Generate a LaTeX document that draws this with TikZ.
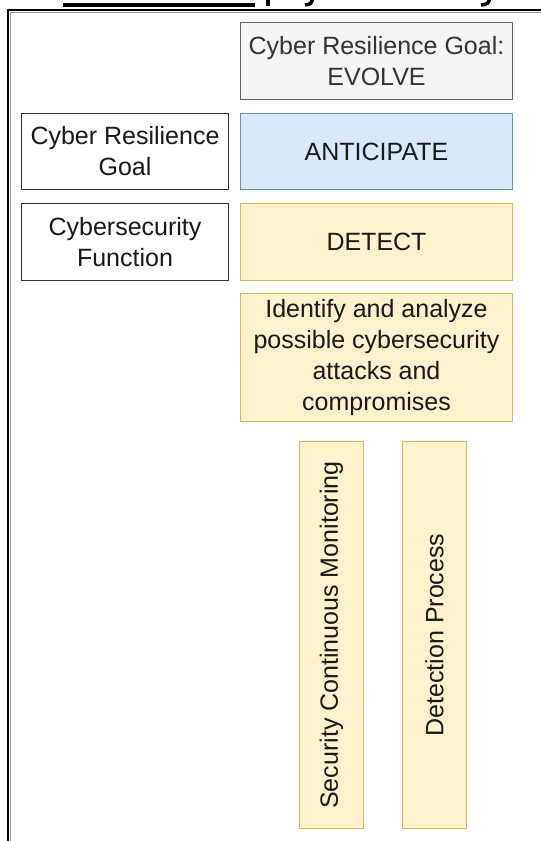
\documentclass[tikz,border=0pt]{standalone}
\usepackage{fontspec}
\setmainfont{Liberation Sans}
\definecolor{evfill}{HTML}{F5F5F5}
\definecolor{evdraw}{HTML}{666666}
\definecolor{evtext}{HTML}{333333}
\definecolor{blfill}{HTML}{DAE8FC}
\definecolor{bldraw}{HTML}{6C8EBF}
\definecolor{yefill}{HTML}{FFF2CC}
\definecolor{yedraw}{HTML}{D6B656}
\tikzset{
  base/.style={draw, line width=1pt, align=center, inner sep=0pt, anchor=north west,
    font=\fontsize{25}{31}\selectfont, text=black!90},
  evbox/.style={base, fill=evfill, draw=evdraw, text=evtext},
  lbox/.style={base, fill=white, draw=black!80},
  blbox/.style={base, fill=blfill, draw=bldraw},
  yebox/.style={base, fill=yefill, draw=yedraw},
}
\begin{document}
\begin{tikzpicture}[x=1pt,y=-1pt]
\useasboundingbox (0,0) rectangle (541,841);
\clip (0,0) rectangle (541,841);
% frame
\draw[line width=2pt, black] (8,845) -- (8,10) -- (545,10);
\draw[line width=1pt, black!40] (10,845) -- (10,12) -- (545,12);
% cut-off title fragments
\fill[black] (63,2.5) rectangle (255,7);
\fill[black] (266,0) rectangle (270,5.5);
\draw[line width=3.5pt, black] (313,-2) .. controls (311,4) .. (305,5);
\draw[line width=3.5pt, black] (490,-2) .. controls (488,4) .. (481,5);
% boxes
\node[evbox, minimum width=272pt, minimum height=77pt] (evolve) at (240,22) {Cyber Resilience Goal:\\EVOLVE};
\node[lbox, minimum width=207pt, minimum height=76pt] (goal) at (21,113) {Cyber Resilience\\Goal};
\node[blbox, minimum width=272pt, minimum height=76pt] (anticipate) at (240,113) {ANTICIPATE};
\node[lbox, minimum width=207pt, minimum height=77pt] (func) at (21,203) {Cybersecurity\\Function};
\node[yebox, minimum width=272pt, minimum height=77pt] (detect) at (240,203) {DETECT};
\node[yebox, minimum width=272pt, minimum height=128pt] (identify) at (240,293) {Identify and analyze\\possible cybersecurity\\attacks and\\compromises};
\node[yebox, minimum width=64pt, minimum height=387pt] (scm) at (299,441) {};
\node[rotate=90, font=\fontsize{25}{31}\selectfont, text=black!90] (scmtext) at (scm.center) {Security Continuous Monitoring};
\node[yebox, minimum width=64pt, minimum height=387pt] (dp) at (402,441) {};
\node[rotate=90, font=\fontsize{25}{31}\selectfont, text=black!90] (dptext) at (dp.center) {Detection Process};
\end{tikzpicture}
\end{document}
